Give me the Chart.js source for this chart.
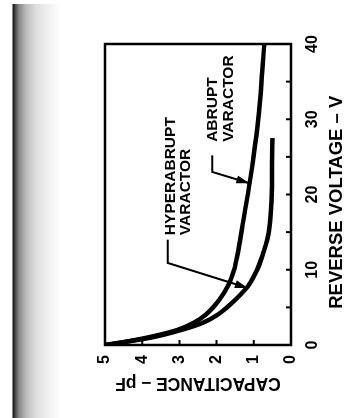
<!DOCTYPE html>
<html>
<head>
<meta charset="utf-8">
<script src="https://cdn.jsdelivr.net/npm/chart.js@4.4.1/dist/chart.umd.min.js"></script>
<style>
  html, body { margin:0; padding:0; background:#fff; }
  body { width:348px; height:418px; overflow:hidden; position:relative; }
  #scan { position:absolute; left:0; top:4px; width:80px; height:414px;
    background: linear-gradient(to right, #fff 0px, #fff 12px, #111 13px, #444 15px, #888 19px, #bbb 26px, #dedede 36px, #f0f0f0 48px, #fff 62px); }
  #wrap { position:absolute; left:0; top:418px; width:418px; height:348px;
    transform-origin:0 0; transform:rotate(-90deg); }
</style>
</head>
<body>
<div id="scan"></div>
<div id="wrap"><canvas id="c" width="418" height="348"></canvas></div>
<script>
// ---- data (voltage in V, capacitance in pF) ----
const abruptVoltage = [0, 0.3, 1, 2, 3, 4, 6, 8, 10, 12, 16, 20, 25, 30, 35, 40];
const abruptCap     = [5.0, 4.6, 3.85, 3.05, 2.6, 2.3, 1.93, 1.68, 1.53, 1.44, 1.30, 1.16, 1.01, 0.88, 0.79, 0.72];
const hyperVoltage  = [0, 0.3, 1, 2, 3, 4, 5, 6, 7, 8, 10, 12, 14, 16, 18, 20, 24, 27.5];
const hyperCap      = [5.0, 4.6, 3.75, 2.95, 2.35, 1.98, 1.72, 1.5, 1.3, 1.13, 0.91, 0.76, 0.64, 0.57, 0.54, 0.52, 0.51, 0.50];
const voltageTicks = [0, 10, 20, 30, 40];
const capTicks = [0, 1, 2, 3, 4, 5];
const seriesNames = ['ABRUPT VARACTOR', 'HYPERABRUPT VARACTOR'];
const xTitle = 'REVERSE VOLTAGE – V\u00a0\u00a0\u00a0';
const yTitle = 'CAPACITANCE – pF';

const FONT = "'Liberation Sans', Arial, Helvetica, sans-serif";
const toXY = (xs, ys) => xs.map((x, i) => ({x: x, y: ys[i]}));

const frameAndTicks = {
  id: 'frameAndTicks',
  afterDatasetsDraw(chart) {
    const ctx = chart.ctx, a = chart.chartArea;
    const xs = chart.scales.x, ys = chart.scales.y;
    ctx.save();
    ctx.strokeStyle = '#000';
    ctx.lineWidth = 2.5;
    ctx.strokeRect(a.left, a.top, a.right - a.left, a.bottom - a.top);
    ctx.lineWidth = 2;
    ctx.beginPath();
    for (let v = 5; v < 40; v += 5) {
      const px = xs.getPixelForValue(v);
      ctx.moveTo(px, a.bottom); ctx.lineTo(px, a.bottom - 5);
    }
    for (let c = 1; c < 5; c++) {
      const py = ys.getPixelForValue(c);
      ctx.moveTo(a.left, py); ctx.lineTo(a.left + 5, py);
    }
    ctx.stroke();

    // annotations
    const P = (v, c) => [xs.getPixelForValue(v), ys.getPixelForValue(c)];
    ctx.fillStyle = '#000';
    ctx.font = 'bold 15.5px ' + FONT;
    ctx.textBaseline = 'alphabetic';
    ctx.textAlign = 'left';
    let p = P(14.6, 3.12); ctx.fillText('HYPERABRUPT', p[0], p[1]);
    p = P(14.6, 2.72); ctx.fillText('VARACTOR', p[0], p[1]);
    p = P(27.0, 1.99); ctx.fillText('ABRUPT', p[0], p[1]);
    p = P(27.0, 1.56); ctx.fillText('VARACTOR', p[0], p[1]);

    const leader = (pts) => {
      ctx.lineWidth = 2;
      ctx.beginPath();
      ctx.moveTo(pts[0][0], pts[0][1]);
      for (let i = 1; i < pts.length; i++) ctx.lineTo(pts[i][0], pts[i][1]);
      ctx.stroke();
      const t = pts[pts.length - 1], s = pts[pts.length - 2];
      const ang = Math.atan2(t[1] - s[1], t[0] - s[0]);
      const L = 13, W = 4;
      ctx.beginPath();
      ctx.moveTo(t[0], t[1]);
      ctx.lineTo(t[0] - L * Math.cos(ang) + W * Math.sin(ang), t[1] - L * Math.sin(ang) - W * Math.cos(ang));
      ctx.lineTo(t[0] - L * Math.cos(ang) - W * Math.sin(ang), t[1] - L * Math.sin(ang) + W * Math.cos(ang));
      ctx.closePath();
      ctx.fill();
    };
    leader([P(14.0, 3.31), P(10.9, 3.31), P(7.57, 1.16)]);
    leader([P(25.2, 2.12), P(23.0, 2.12), P(21.5, 1.12)]);
    ctx.restore();
  }
};

new Chart(document.getElementById('c'), {
  type: 'scatter',
  data: {
    datasets: [
      { label: seriesNames[0], data: toXY(abruptVoltage, abruptCap), showLine: true,
        borderColor: '#000', borderWidth: 4.5, pointRadius: 0, cubicInterpolationMode: 'monotone', fill: false },
      { label: seriesNames[1], data: toXY(hyperVoltage, hyperCap), showLine: true,
        borderColor: '#000', borderWidth: 4.5, pointRadius: 0, cubicInterpolationMode: 'monotone', fill: false }
    ]
  },
  options: {
    responsive: false,
    animation: false,
    devicePixelRatio: 1,
    layout: { padding: { left: 0, top: 105, right: 44, bottom: 0 } },
    plugins: { legend: { display: false }, tooltip: { enabled: false } },
    scales: {
      x: {
        type: 'linear', position: 'bottom', min: 0, max: 40,
        afterBuildTicks: (s) => { s.ticks = voltageTicks.map(v => ({value: v})); },
        afterFit: (s) => { s.height = 57; },
        grid: { display: false, drawTicks: false },
        border: { display: false },
        ticks: { color: '#000', padding: 12, font: { family: FONT, size: 16, weight: 'bold' } },
        title: { display: true, text: xTitle, color: '#000', padding: { top: 0, bottom: 0 },
                 font: { family: FONT, size: 18.5, weight: 'bold' } }
      },
      y: {
        type: 'linear', position: 'left', min: 0, max: 5,
        afterBuildTicks: (s) => { s.ticks = capTicks.map(v => ({value: v})); },
        afterFit: (s) => { s.width = 73; },
        grid: { display: false, drawTicks: false },
        border: { display: false },
        ticks: { color: '#000', padding: 10, font: { family: FONT, size: 16, weight: 'bold' } },
        title: { display: true, text: yTitle, color: '#000', padding: { top: 25, bottom: 0 },
                 font: { family: FONT, size: 17.5, weight: 'bold' } }
      }
    }
  },
  plugins: [frameAndTicks]
});
</script>
</body>
</html>
